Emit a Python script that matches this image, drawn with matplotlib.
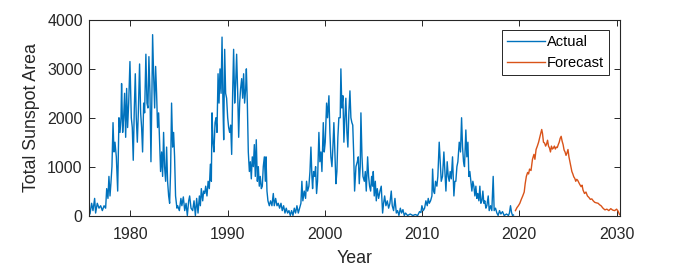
import matplotlib
matplotlib.use("Agg")
from matplotlib import pyplot as plt

# Values (decimal year, total sunspot area)
actual_year = [
    1975.75, 1975.85, 1976.02, 1976.16, 1976.33, 1976.43, 1976.6, 1976.78, 1976.95, 1977.12,
    1977.3, 1977.46, 1977.57, 1977.7, 1977.8, 1977.91, 1978.0, 1978.11, 1978.22, 1978.32,
    1978.42, 1978.56, 1978.7, 1978.83, 1978.94, 1979.04, 1979.1, 1979.21, 1979.31, 1979.41,
    1979.52, 1979.62, 1979.72, 1979.83, 1979.96, 1980.1, 1980.2, 1980.3, 1980.41, 1980.51,
    1980.61, 1980.72, 1980.82, 1980.95, 1981.06, 1981.16, 1981.26, 1981.37, 1981.47, 1981.6,
    1981.71, 1981.81, 1981.91, 1982.02, 1982.12, 1982.22, 1982.29, 1982.39, 1982.5, 1982.6,
    1982.7, 1982.8, 1982.91, 1983.01, 1983.11, 1983.22, 1983.32, 1983.42, 1983.52, 1983.63,
    1983.73, 1983.83, 1983.94, 1984.04, 1984.14, 1984.24, 1984.35, 1984.45, 1984.55, 1984.65,
    1984.79, 1984.87, 1985.04, 1985.2, 1985.3, 1985.45, 1985.59, 1985.73, 1985.86, 1986.0,
    1986.1, 1986.24, 1986.41, 1986.55, 1986.69, 1986.82, 1986.96, 1987.1, 1987.2, 1987.3,
    1987.44, 1987.54, 1987.65, 1987.75, 1987.88, 1988.0, 1988.12, 1988.23, 1988.33, 1988.4,
    1988.5, 1988.6, 1988.71, 1988.81, 1988.91, 1989.02, 1989.12, 1989.22, 1989.33, 1989.43,
    1989.53, 1989.6, 1989.7, 1989.8, 1989.9, 1990.01, 1990.11, 1990.21, 1990.32, 1990.42,
    1990.52, 1990.62, 1990.73, 1990.83, 1990.93, 1991.04, 1991.14, 1991.24, 1991.34, 1991.45,
    1991.55, 1991.65, 1991.75, 1991.86, 1991.93, 1992.03, 1992.13, 1992.24, 1992.34, 1992.44,
    1992.54, 1992.65, 1992.75, 1992.85, 1992.95, 1993.06, 1993.16, 1993.26, 1993.36, 1993.47,
    1993.57, 1993.67, 1993.78, 1993.88, 1993.95, 1994.05, 1994.15, 1994.29, 1994.42, 1994.56,
    1994.7, 1994.8, 1994.94, 1995.08, 1995.21, 1995.35, 1995.49, 1995.62, 1995.76, 1995.9,
    1996.03, 1996.17, 1996.31, 1996.45, 1996.58, 1996.72, 1996.86, 1996.99, 1997.13, 1997.27,
    1997.4, 1997.54, 1997.64, 1997.74, 1997.88, 1998.02, 1998.12, 1998.23, 1998.36, 1998.47,
    1998.57, 1998.67, 1998.74, 1998.84, 1998.95, 1999.05, 1999.15, 1999.25, 1999.39, 1999.49,
    1999.6, 1999.7, 1999.84, 1999.94, 2000.04, 2000.18, 2000.28, 2000.42, 2000.52, 2000.62,
    2000.73, 2000.83, 2000.93, 2001.03, 2001.14, 2001.24, 2001.34, 2001.44, 2001.58, 2001.65,
    2001.75, 2001.86, 2001.96, 2002.06, 2002.16, 2002.27, 2002.37, 2002.47, 2002.58, 2002.68,
    2002.78, 2002.87, 2002.96, 2003.06, 2003.2, 2003.34, 2003.44, 2003.54, 2003.64, 2003.71,
    2003.82, 2003.92, 2004.06, 2004.16, 2004.26, 2004.4, 2004.5, 2004.6, 2004.71, 2004.81,
    2004.91, 2004.98, 2005.08, 2005.19, 2005.29, 2005.39, 2005.53, 2005.67, 2005.8, 2005.94,
    2006.04, 2006.15, 2006.28, 2006.42, 2006.56, 2006.69, 2006.83, 2006.93, 2007.07, 2007.21,
    2007.35, 2007.48, 2007.62, 2007.76, 2007.89, 2008.03, 2008.17, 2008.3, 2008.51, 2008.78,
    2009.05, 2009.3, 2009.54, 2009.74, 2009.88, 2009.98, 2010.12, 2010.26, 2010.39, 2010.53,
    2010.63, 2010.74, 2010.87, 2011.01, 2011.08, 2011.18, 2011.28, 2011.38, 2011.52, 2011.62,
    2011.76, 2011.86, 2011.97, 2012.1, 2012.24, 2012.34, 2012.45, 2012.58, 2012.69, 2012.79,
    2012.89, 2013.0, 2013.13, 2013.27, 2013.37, 2013.47, 2013.58, 2013.68, 2013.82, 2013.95,
    2014.06, 2014.16, 2014.26, 2014.36, 2014.5, 2014.6, 2014.71, 2014.81, 2014.91, 2015.01,
    2015.12, 2015.22, 2015.32, 2015.43, 2015.53, 2015.63, 2015.73, 2015.84, 2015.94, 2016.04,
    2016.15, 2016.25, 2016.35, 2016.45, 2016.56, 2016.66, 2016.8, 2016.9, 2017.04, 2017.17,
    2017.31, 2017.41, 2017.55, 2017.69, 2017.82, 2017.96, 2018.1, 2018.27, 2018.44, 2018.68,
    2018.88, 2018.98, 2019.09, 2019.2, 2019.3, 2019.4,
]
actual_area = [
    150, 30, 250, 100, 350, 50, 250, 150, 200, 100,
    200, 150, 550, 350, 800, 400, 650, 1000, 1900, 1300,
    1500, 1200, 500, 2000, 1700, 2000, 2700, 1700, 2000, 2500,
    1600, 2600, 1800, 2300, 3150, 2000, 1800, 1130, 2200, 2900,
    2000, 1500, 2100, 3100, 2100, 1800, 1300, 2300, 2100, 3300,
    2300, 2200, 3250, 2500, 1100, 2500, 3700, 2900, 2200, 3050,
    2500, 1800, 2100, 1500, 900, 1300, 800, 1700, 1000, 700,
    1400, 700, 400, 250, 900, 2300, 1400, 1700, 1200, 400,
    150, 200, 100, 350, 200, 380, 100, 250, 0, 300,
    400, 150, 100, 300, 0, 350, 50, 400, 200, 550,
    300, 500, 450, 600, 400, 700, 550, 1050, 700, 2100,
    1500, 1300, 1900, 2000, 1700, 2900, 2300, 3000, 2500, 3650,
    2200, 1550, 3400, 2500, 2400, 2000, 1800, 1700, 1850, 1250,
    2500, 3400, 2300, 2700, 3300, 2500, 1600, 2300, 2600, 2800,
    2400, 2900, 2300, 2600, 3000, 2300, 1300, 900, 1100, 750,
    1200, 1000, 1450, 800, 1550, 700, 1000, 600, 800, 550,
    600, 1000, 1200, 700, 1200, 500, 300, 200, 300, 200,
    450, 200, 350, 200, 250, 150, 250, 100, 200, 50,
    150, 50, 100, 0, 100, 0, 150, 50, 200, 50,
    150, 250, 700, 300, 500, 350, 700, 500, 600, 900,
    1400, 800, 550, 900, 800, 1000, 450, 700, 1700, 1100,
    1300, 900, 1900, 1300, 1500, 2300, 2000, 2450, 1700, 1200,
    1000, 1400, 1900, 1300, 650, 900, 1600, 2000, 2000, 3000,
    2200, 2450, 1500, 2000, 2400, 1700, 1400, 2100, 2550, 2000,
    1900, 1850, 1300, 500, 1000, 1100, 1200, 650, 1000, 2100,
    1200, 800, 700, 900, 500, 1200, 800, 600, 500, 800,
    600, 900, 400, 700, 300, 550, 350, 500, 600, 50,
    250, 400, 200, 300, 150, 250, 500, 200, 100, 350,
    50, 100, 0, 150, 50, 120, 0, 50, 0, 30,
    0, 20, 0, 80, 60, 200, 100, 150, 300, 200,
    350, 250, 300, 400, 950, 500, 450, 700, 600, 800,
    1500, 1100, 700, 800, 1300, 900, 500, 1100, 800, 700,
    900, 750, 1200, 400, 700, 700, 1000, 1100, 1500, 1300,
    2000, 1400, 1100, 1000, 1750, 1200, 1500, 800, 900, 700,
    500, 700, 600, 400, 600, 350, 450, 300, 600, 250,
    300, 500, 250, 300, 150, 200, 400, 100, 200, 100,
    800, 100, 150, 50, 0, 100, 30, 80, 0, 30,
    0, 50, 200, 60, 0, 10,
]

forecast_year = [
    2019.6, 2019.75, 2019.9, 2020.05, 2020.2, 2020.35, 2020.5, 2020.6, 2020.72, 2020.85,
    2020.95, 2021.05, 2021.2, 2021.35, 2021.5, 2021.6, 2021.72, 2021.85, 2021.98, 2022.1,
    2022.2, 2022.3, 2022.38, 2022.48, 2022.6, 2022.7, 2022.8, 2022.9, 2023.0, 2023.1,
    2023.2, 2023.3, 2023.4, 2023.5, 2023.6, 2023.7, 2023.8, 2023.9, 2024.0, 2024.1,
    2024.2, 2024.3, 2024.4, 2024.5, 2024.6, 2024.7, 2024.8, 2024.9, 2025.0, 2025.1,
    2025.2, 2025.3, 2025.4, 2025.5, 2025.6, 2025.7, 2025.8, 2025.9, 2026.0, 2026.1,
    2026.2, 2026.35, 2026.45, 2026.55, 2026.7, 2026.85, 2027.0, 2027.15, 2027.3, 2027.45,
    2027.6, 2027.75, 2027.9, 2028.1, 2028.25, 2028.4, 2028.6, 2028.8, 2029.0, 2029.2,
    2029.4, 2029.6, 2029.8, 2030.0, 2030.15, 2030.3,
]
forecast_area = [
    100, 160, 200, 250, 330, 400, 480, 650, 800, 880,
    850, 950, 920, 1150, 1250, 1150, 1350, 1420, 1500, 1600,
    1680, 1760, 1680, 1500, 1480, 1420, 1460, 1540, 1420, 1380,
    1300, 1420, 1360, 1380, 1420, 1360, 1400, 1390, 1450, 1500,
    1580, 1620, 1520, 1450, 1340, 1300, 1230, 1280, 1350, 1200,
    1100, 1000, 900, 850, 790, 760, 700, 740, 720, 680,
    640, 590, 620, 520, 450, 480, 400, 370, 330, 340,
    300, 270, 260, 250, 220, 200, 150, 115, 130, 100,
    140, 110, 100, 130, 90, 20,
]

x_ticks = [1980, 1990, 2000, 2010, 2020, 2030]
y_ticks = [0, 1000, 2000, 3000, 4000]

_BLUE = '#0072BD'
_ORANGE = '#D95319'
_DARK = '#262626'

plt.rcParams['font.family'] = ['Liberation Sans', 'DejaVu Sans']

fig = plt.figure(figsize=(6.86, 2.67), dpi=100)
ax = fig.add_axes([89 / 686, 51.5 / 267, 531 / 686, 195.5 / 267])

ax.plot(actual_year, actual_area, color=_BLUE, lw=1.0, label='Actual')
ax.plot(forecast_year, forecast_area, color=_ORANGE, lw=1.0, label='Forecast')

ax.set_xlim(1975.75, 2030.35)
ax.set_ylim(0, 4000)
ax.set_xticks(x_ticks)
ax.set_yticks(y_ticks)
ax.tick_params(direction='in', top=True, right=True, length=4, width=0.7,
               colors=_DARK, labelsize=11.5)
ax.tick_params(axis='x', pad=8)
ax.tick_params(axis='y', pad=4.5)
for spine in ax.spines.values():
  spine.set_color(_DARK)
  spine.set_linewidth(0.8)

ax.set_xlabel('Year', fontsize=12.8, color=_DARK, labelpad=6)
ax.set_ylabel('Total Sunspot Area', fontsize=12.8, color=_DARK, labelpad=5)

leg = ax.legend(loc='upper right', bbox_to_anchor=(1 - 11 / 531, 1 - 10 / 195.5),
                borderaxespad=0, fontsize=10.5, handlelength=2.6, handletextpad=0.15,
                labelspacing=0.45, borderpad=0.35, fancybox=False, framealpha=1)
leg.get_frame().set_edgecolor(_DARK)
leg.get_frame().set_linewidth(0.7)

fig.savefig('out.png', dpi=100)
